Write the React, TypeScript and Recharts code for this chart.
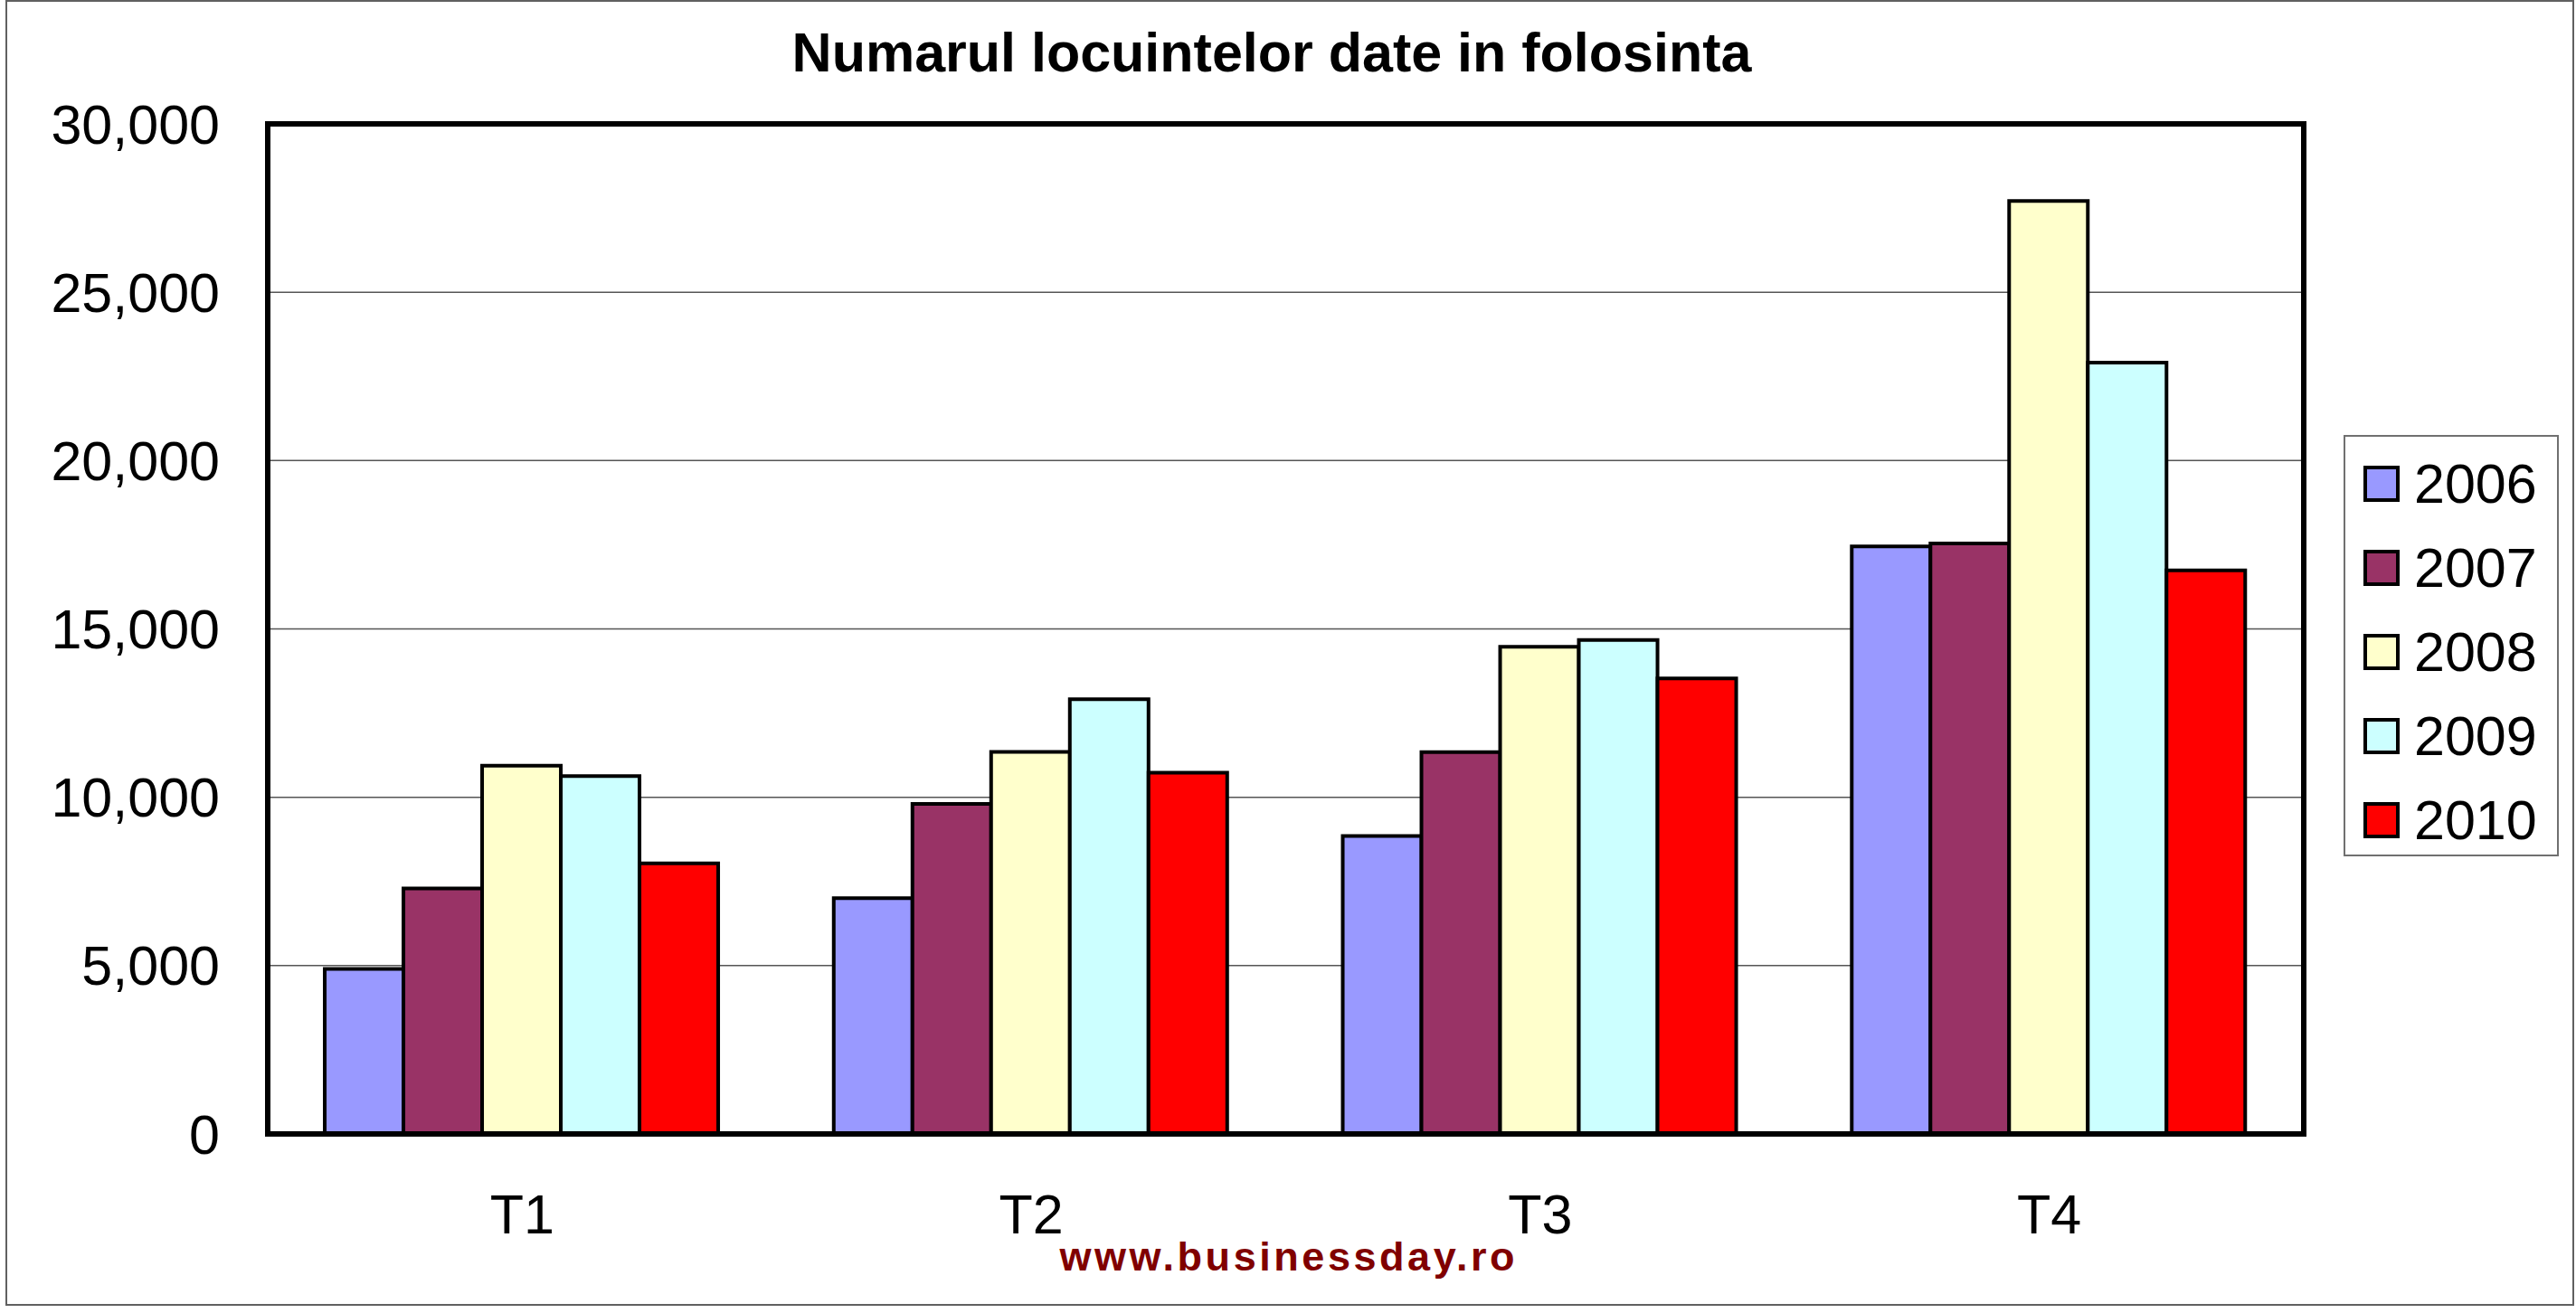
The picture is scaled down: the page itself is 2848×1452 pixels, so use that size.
import React from 'react';
import { BarChart, Bar, XAxis, YAxis, CartesianGrid, Legend, ReferenceLine } from 'recharts';

const categories = ['T1', 'T2', 'T3', 'T4'];
const years = ['2006', '2007', '2008', '2009', '2010'];
const s2006 = [4900, 7000, 8850, 17450];
const s2007 = [7290, 9800, 11340, 17540];
const s2008 = [10940, 11350, 14470, 27710];
const s2009 = [10630, 12910, 14670, 22910];
const s2010 = [8040, 10730, 13530, 16740];
const yTicks = [0, 5000, 10000, 15000, 20000, 25000, 30000];
const colors = ['#9999FF', '#993366', '#FFFFCC', '#CCFFFF', '#FF0000'];
const seriesValues = [s2006, s2007, s2008, s2009, s2010];

const data = categories.map((c, i) => {
  const row: Record<string, string | number> = { cat: c };
  years.forEach((y, k) => {
    row['y' + y] = seriesValues[k][i];
  });
  return row;
});

const FONT = '"Liberation Sans", Arial, Helvetica, sans-serif';

const renderLegend = (props: any) => {
  const payload = props.payload || [];
  return (
    <div
      style={{
        position: 'relative',
        width: 238,
        height: 466,
        boxSizing: 'border-box',
        border: '2px solid #707070',
        background: '#fff',
        fontFamily: FONT,
      }}
    >
      {payload.map((entry: any, i: number) => (
        <div
          key={entry.value}
          style={{
            position: 'absolute',
            left: 0,
            top: 54 + i * 93 - 2 - 40,
            height: 80,
            display: 'flex',
            alignItems: 'center',
          }}
        >
          <div
            style={{
              marginLeft: 20,
              width: 40,
              height: 40,
              boxSizing: 'border-box',
              border: '4px solid #000',
              background: entry.color,
            }}
          />
          <span style={{ marginLeft: 16, fontSize: 61, lineHeight: '61px', color: '#000' }}>
            {entry.value}
          </span>
        </div>
      ))}
    </div>
  );
};

const borderProps = { stroke: '#000', strokeWidth: 6, strokeLinecap: 'square' as const };

export default function App() {
  return (
    <div style={{ position: 'absolute', left: 0, top: 0, width: 2848, height: 1452, background: '#fff' }}>
      <div
        style={{
          position: 'absolute',
          left: 6,
          top: 0,
          width: 2840,
          height: 1444,
          boxSizing: 'border-box',
          border: '2px solid #606060',
          pointerEvents: 'none',
        }}
      />
      <BarChart
        width={2848}
        height={1452}
        data={data}
        margin={{ top: 137, right: 301, bottom: 0, left: 0 }}
        barCategoryGap="11.2%"
        barGap={0}
      >
        <text
          x={1406}
          y={79}
          textAnchor="middle"
          fontFamily={FONT}
          fontWeight="bold"
          fontSize={61}
          fill="#000"
        >
          Numarul locuintelor date in folosinta
        </text>
        <text
          x={1423}
          y={1405}
          textAnchor="middle"
          fontFamily={FONT}
          fontWeight="bold"
          fontSize={45}
          fill="#800000"
          textLength={503}
        >
          www.businessday.ro
        </text>
        <CartesianGrid vertical={false} stroke="#555" strokeWidth={1.5} />
        <XAxis
          dataKey="cat"
          height={198}
          tickLine={false}
          tickSize={0}
          tickMargin={67}
          axisLine={false}
          tick={{ fontSize: 61, fill: '#000', fontFamily: FONT }}
          interval={0}
        />
        <YAxis
          width={296}
          domain={[0, 30000]}
          ticks={yTicks}
          tickLine={false}
          tickSize={0}
          tickMargin={53}
          axisLine={false}
          tickFormatter={(v: number) => v.toLocaleString('en-US')}
          tick={{ fontSize: 61, fill: '#000', fontFamily: FONT }}
          allowDataOverflow
        />
        <Legend
          layout="vertical"
          align="center"
          verticalAlign="middle"
          wrapperStyle={{ left: 2591, top: 481, width: 238, height: 466 }}
          content={renderLegend}
        />
        {years.map((y, k) => (
          <Bar
            key={y}
            dataKey={'y' + y}
            name={y}
            fill={colors[k]}
            stroke="#000"
            strokeWidth={4}
            isAnimationActive={false}
          />
        ))}
        <ReferenceLine y={0} {...borderProps} />
        <ReferenceLine y={30000} {...borderProps} />
        <ReferenceLine x="T1" position="start" {...borderProps} />
        <ReferenceLine x="T4" position="end" {...borderProps} />
      </BarChart>
    </div>
  );
}
